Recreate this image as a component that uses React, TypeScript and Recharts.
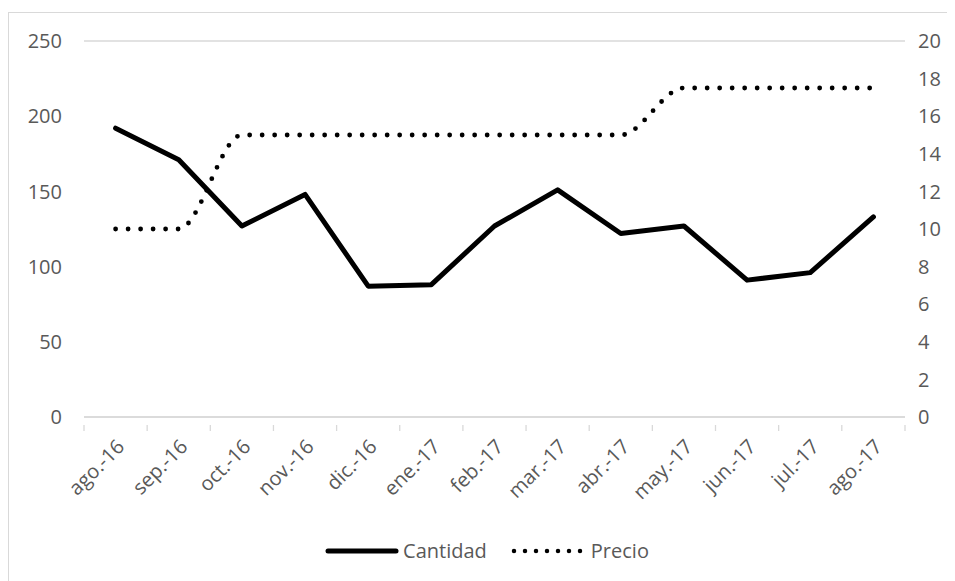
import { LineChart, Line, XAxis, YAxis, CartesianGrid } from 'recharts';

const months = ['ago.-16', 'sep.-16', 'oct.-16', 'nov.-16', 'dic.-16', 'ene.-17', 'feb.-17', 'mar.-17', 'abr.-17', 'may.-17', 'jun.-17', 'jul.-17', 'ago.-17'];
const cantidad = [192, 171, 127, 148, 87, 88, 127, 151, 122, 127, 91, 96, 133];
const precio = [10, 10, 15, 15, 15, 15, 15, 15, 15, 17.5, 17.5, 17.5, 17.5];
const leftTicks = [0, 50, 100, 150, 200, 250];
const rightTicks = [0, 2, 4, 6, 8, 10, 12, 14, 16, 18, 20];

const data = months.map((m, i) => ({ month: m, cantidad: cantidad[i], precio: precio[i] }));

const FONT = '"Open Sans", sans-serif';
const SIZE = 20;
const TEXT = '#595959';
const GRID = '#d9d9d9';
const HALF = 31.6; // half of one category slot

const MonthTick = (props: any) => {
  const { x, y, payload, index } = props;
  return (
    <g transform={`translate(${x},${y})`}>
      <line x1={-HALF} x2={-HALF} y1={0} y2={6} stroke={GRID} strokeWidth={1.3} />
      {index === months.length - 1 && <line x1={HALF} x2={HALF} y1={0} y2={6} stroke={GRID} strokeWidth={1.3} />}
      <text x={10} y={23} textAnchor="end" transform="rotate(-45 10 23)" fill={TEXT} fontSize={SIZE} fontFamily={FONT}>
        {payload.value}
      </text>
    </g>
  );
};

const LegendBox = () => (
  <div style={{ display: 'flex', justifyContent: 'center', alignItems: 'center', fontFamily: FONT, fontSize: SIZE, color: TEXT, paddingLeft: 12 }}>
    <svg width={74} height={10}>
      <line x1={3} x2={71} y1={5} y2={5} stroke="#000" strokeWidth={5} strokeLinecap="round" />
    </svg>
    <span style={{ marginLeft: 4 }}>Cantidad</span>
    <svg width={72} height={10} style={{ marginLeft: 24 }}>
      <line x1={3} x2={70} y1={5} y2={5} stroke="#000" strokeWidth={4.5} strokeLinecap="round" strokeDasharray="0 11" />
    </svg>
    <span style={{ marginLeft: 8 }}>Precio</span>
  </div>
);

export default function App() {
  return (
    <div style={{ marginTop: 4, width: 944, height: 580, border: `1px solid ${GRID}`, position: 'relative', background: '#fff' }}>
      <LineChart width={944} height={570} data={data} margin={{ top: 28, right: 0, left: 0, bottom: 70 }}>
        <CartesianGrid vertical={false} stroke={GRID} strokeWidth={1.3} />
        <XAxis
          dataKey="month"
          xAxisId="x"
          height={96}
          interval={0}
          tickLine={false}
          axisLine={{ stroke: GRID, strokeWidth: 1.3 }}
          padding={{ left: HALF, right: HALF }}
          tick={<MonthTick />}
        />
        <YAxis
          yAxisId="left"
          width={75}
          domain={[0, 250]}
          ticks={leftTicks}
          axisLine={false}
          tickLine={false}
          tickMargin={16}
          tick={{ fill: TEXT, fontSize: SIZE, fontFamily: FONT }}
        />
        <YAxis
          yAxisId="right"
          orientation="right"
          width={48}
          domain={[0, 20]}
          ticks={rightTicks}
          axisLine={false}
          tickLine={false}
          tickMargin={7}
          tick={{ fill: TEXT, fontSize: SIZE, fontFamily: FONT, textAnchor: 'start' }}
        />
        <Line
          xAxisId="x"
          yAxisId="left"
          type="linear"
          dataKey="cantidad"
          name="Cantidad"
          stroke="#000"
          strokeWidth={5}
          strokeLinecap="round"
          strokeLinejoin="round"
          dot={false}
          activeDot={false}
          isAnimationActive={false}
        />
        <Line
          xAxisId="x"
          yAxisId="right"
          type="monotone"
          dataKey="precio"
          name="Precio"
          stroke="#000"
          strokeWidth={4.8}
          strokeLinecap="round"
          strokeDasharray="0 12.5"
          dot={false}
          activeDot={false}
          isAnimationActive={false}
        />
      </LineChart>
      <div style={{ position: 'absolute', left: 0, top: 524, width: 944 }}>
        <LegendBox />
      </div>
    </div>
  );
}
